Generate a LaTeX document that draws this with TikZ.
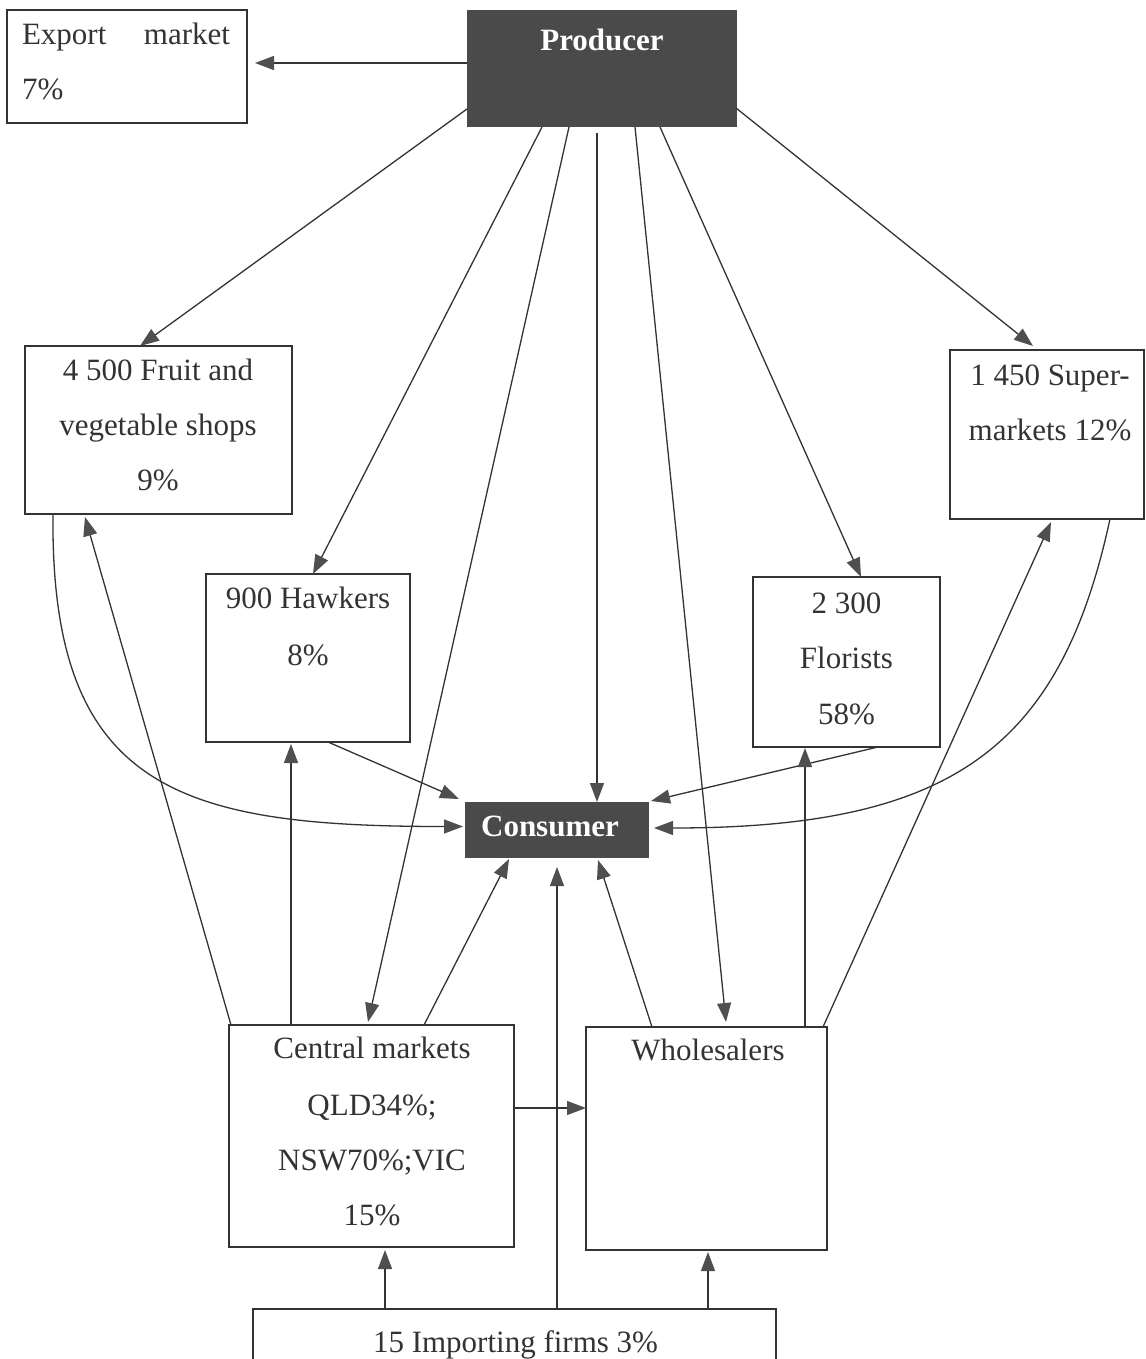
\documentclass[tikz,border=0pt]{standalone}
\usepackage{fontspec}
\setmainfont{Liberation Serif}
\usetikzlibrary{arrows.meta,calc}
\definecolor{ink}{HTML}{333333}
\definecolor{darkfill}{HTML}{4A4A4A}
\definecolor{tipc}{HTML}{4F4F4F}
\begin{document}
\begin{tikzpicture}[x=1pt,y=-1pt,
  font=\fontsize{31}{37}\selectfont,
  box/.style={draw=ink, line width=1.6pt, inner sep=0pt, outer sep=0pt},
  darkbox/.style={fill=darkfill, draw=darkfill, line width=1pt, inner sep=0pt, outer sep=0pt},
  txt/.style={anchor=base, inner sep=0pt, outer sep=0pt, text=ink},
  wtxt/.style={anchor=base, inner sep=0pt, outer sep=0pt, text=white, font=\fontsize{31}{37}\selectfont\bfseries},
  conn/.style={draw=ink, line width=1.3pt, -{Triangle[length=19pt,width=14pt,color=tipc]}}
]
\useasboundingbox (0,0) rectangle (1145,1359);

% boxes
\node[box, minimum width=240pt, minimum height=113pt] (export) at (127,66.5) {};
\node[darkbox, minimum width=269pt, minimum height=116pt] (prod) at (601.5,69) {};
\node[box, minimum width=267pt, minimum height=168pt] (fruit) at (158.5,430) {};
\node[box, minimum width=194pt, minimum height=169pt] (super) at (1047,434.5) {};
\node[box, minimum width=204pt, minimum height=168pt] (hawk) at (308,658) {};
\node[box, minimum width=187pt, minimum height=170pt] (flor) at (846.5,662) {};
\node[darkbox, minimum width=183pt, minimum height=55pt] (cons) at (556.5,829.5) {};
\node[box, minimum width=285pt, minimum height=222pt] (central) at (371.5,1136) {};
\node[box, minimum width=241pt, minimum height=223pt] (whole) at (706.5,1138.5) {};
\node[box, minimum width=523pt, minimum height=91pt] (imp) at (514.5,1354.5) {};

% texts
\node[txt, anchor=base west] (exportA) at (22,45) {Export};
\node[txt, anchor=base east] (exportB) at (230,45) {market};
\node[txt, anchor=base west] (exportC) at (22,100) {7\%};
\node[wtxt] (prodT) at (602,51) {Producer};
\node[txt] (fruitA) at (158,380) {4 500 Fruit and};
\node[txt] (fruitB) at (158,435) {vegetable shops};
\node[txt] (fruitC) at (158,490) {9\%};
\node[txt] (superA) at (1050,385) {1 450 Super-};
\node[txt] (superB) at (1050,440) {markets 12\%};
\node[txt] (hawkA) at (308,608) {900 Hawkers};
\node[txt] (hawkB) at (308,665) {8\%};
\node[txt] (florA) at (846.5,613) {2 300};
\node[txt] (florB) at (846.5,668) {Florists};
\node[txt] (florC) at (846.5,724) {58\%};
\node[wtxt] (consT) at (550,836) {Consumer};
\node[txt] (centralA) at (372,1058) {Central markets};
\node[txt] (centralB) at (372,1115) {QLD34\%;};
\node[txt] (centralC) at (372,1170) {NSW70\%;VIC};
\node[txt] (centralD) at (372,1225) {15\%};
\node[txt] (wholeT) at (708,1060) {Wholesalers};
\node[txt] (impT) at (515.5,1352) {15 Importing firms 3\%};

% connectors from producer
\draw[conn] ($(prod.west)+(0,-6)$) -- ($(export.east)+(8,-3.5)$);
\draw[conn] ($(prod.west)+(0,40)$) -- ($(fruit.north)+(-18.5,0)$);
\draw[conn] ($(prod.south)+(-59.5,0)$) -- ($(hawk.north)+(5,0)$);
\draw[conn] ($(prod.south)+(-32.5,0)$) -- ($(central.north)+(-3.5,-3)$);
\draw[conn] ($(prod.south)+(-4.5,6)$) -- ($(cons.north)+(40.5,0)$);
\draw[conn] ($(prod.south)+(33.5,0)$) -- ($(whole.north)+(19.5,-5)$);
\draw[conn] ($(prod.south)+(58.5,0)$) -- ($(flor.north)+(14.5,0)$);
\draw[conn] ($(prod.east)+(0,39)$) -- ($(super.north)+(-14,-4)$);

% retailers to consumer
\draw[conn] ($(fruit.south)+(-105.5,0)$) .. controls (50,790) and (180,826.5) .. ($(cons.west)+(-2,-3)$);
\draw[conn] ($(hawk.south)+(20,0)$) -- ($(cons.north west)+(-6,-3)$);
\draw[conn] ($(flor.south)+(31.5,0)$) -- ($(cons.north east)+(3,-1)$);
\draw[conn] ($(super.south)+(63,0)$) .. controls (1060,750) and (950,828) .. ($(cons.east)+(6,-1.5)$);

% central markets
\draw[conn] ($(central.north west)+(2,0)$) -- ($(fruit.south west)+(60,3)$);
\draw[conn] ($(central.north west)+(62,0)$) -- ($(hawk.south)+(-17,2)$);
\draw[conn] ($(central.north)+(52.5,0)$) -- ($(cons.south west)+(44,2)$);
\draw[conn] ($(central.east)+(0,-28)$) -- ($(whole.west)+(0,-30.5)$);

% wholesalers
\draw[conn] ($(whole.north west)+(66,0)$) -- ($(cons.south east)+(-50,3)$);
\draw[conn] ($(whole.north east)+(-22,0)$) -- ($(flor.south)+(-41.5,1)$);
\draw[conn] ($(whole.north east)+(-4,0)$) -- ($(super.south)+(4,3)$);

% importing firms
\draw[conn] ($(imp.north)+(42.5,0)$) -- ($(cons.south)+(0.5,10)$);
\draw[conn] ($(imp.north)+(-129.5,0)$) -- ($(central.south)+(13.5,3)$);
\draw[conn] ($(imp.north)+(193.5,0)$) -- ($(whole.south)+(1.5,2)$);
\end{tikzpicture}
\end{document}
